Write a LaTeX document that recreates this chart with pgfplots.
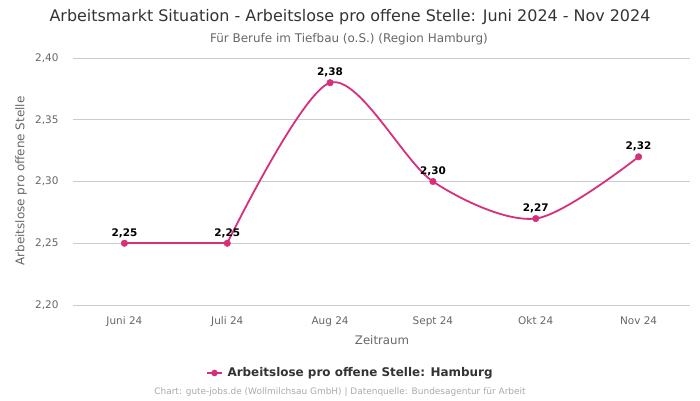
\documentclass[border=0pt]{standalone}
\usepackage{pgfplots}
\pgfplotsset{compat=1.18}
\usepackage{fontspec}
\setmainfont{DejaVu Sans}
\definecolor{linec}{RGB}{214,48,125}
\definecolor{gridc}{RGB}{204,204,204}
\definecolor{titlec}{RGB}{51,51,51}
\definecolor{subc}{RGB}{102,102,102}
\definecolor{tickc}{RGB}{102,102,102}
\definecolor{footc}{RGB}{170,170,170}
\begin{document}
\begin{tikzpicture}[x=1bp,y=1bp]
\path[use as bounding box] (0,0) rectangle (700,400);
\begin{axis}[
  at={(73bp,95bp)}, anchor=south west,
  scale only axis, width=617bp, height=247bp,
  xmin=-0.5, xmax=5.5, ymin=2.2, ymax=2.4,
  xtick={0,1,2,3,4,5},
  xticklabels={Juni 24,Juli 24,Aug 24,Sept 24,Okt 24,Nov 24},
  ytick={2.2,2.25,2.3,2.35,2.4},
  yticklabels={{2,20},{2,25},{2,30},{2,35},{2,40}},
  ymajorgrids, grid style={gridc, line width=0.8bp},
  axis line style={draw=none},
  major tick length=0pt,
  tick label style={font=\fontsize{10.5}{12}\selectfont, text=tickc},
  xticklabel style={yshift=-8bp},
  yticklabel style={xshift=-11bp},
  /pgf/number format/assume math mode=true,
  clip=false,
]
\addplot[draw=linec, line width=1.8bp, forget plot] coordinates {(0,2.25) (1,2.25)};
\addplot[draw=linec, line width=1.8bp, smooth, tension=0.5, forget plot] coordinates {(1,2.25) (2,2.38) (3,2.30) (4,2.27) (5,2.32)};
\addplot[only marks, mark=*, mark size=3.3bp,
  mark options={fill=linec, draw=linec},
  nodes near coords={\pgfmathprintnumber[fixed,fixed zerofill,precision=2,use comma,assume math mode=true]{\pgfplotspointmeta}},
  nodes near coords style={font=\bfseries\fontsize{10.5}{12}\selectfont, text=black, yshift=2bp},
  point meta=explicit]
  coordinates {(0,2.25)[2.25] (1,2.25)[2.25] (2,2.38)[2.38] (3,2.30)[2.30] (4,2.27)[2.27] (5,2.32)[2.32]};
\end{axis}
\node[text=titlec, font=\fontsize{16}{19}\selectfont] at (350,383) {Arbeitsmarkt Situation - Arbeitslose pro offene Stelle: Juni 2024 - Nov 2024};
\node[text=subc, font=\fontsize{12}{14}\selectfont] at (349,361) {Für Berufe im Tiefbau (o.S.) (Region Hamburg)};
\node[text=subc, font=\fontsize{12}{14}\selectfont, rotate=90] at (21,219) {Arbeitslose pro offene Stelle};
\node[text=subc, font=\fontsize{11.8}{14}\selectfont] at (382,60) {Zeitraum};
\draw[linec, line width=1.8bp] (207,27) -- (222,27);
\fill[linec] (214.5,27) circle (3.3bp);
\node[anchor=west, text=titlec, font=\bfseries\fontsize{12}{14}\selectfont] at (224,27) {Arbeitslose pro offene Stelle: Hamburg};
\node[text=footc, font=\fontsize{9}{11}\selectfont] at (340,8) {Chart: gute-jobs.de (Wollmilchsau GmbH) | Datenquelle: Bundesagentur für Arbeit};
\end{tikzpicture}
\end{document}
